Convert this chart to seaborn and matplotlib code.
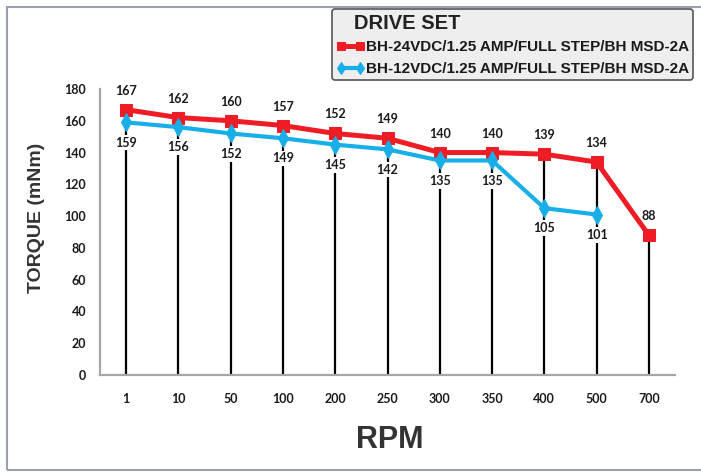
import matplotlib
matplotlib.use("Agg")
import matplotlib.pyplot as plt
import seaborn as sns
import pandas as pd
import numpy as np
from matplotlib.patches import Rectangle

rpm = ["1", "10", "50", "100", "200", "250", "300", "350", "400", "500", "700"]
torque_24v = [167, 162, 160, 157, 152, 149, 140, 140, 139, 134, 88]
torque_12v = [159, 156, 152, 149, 145, 142, 135, 135, 105, 101]
label_24v = "BH-24VDC/1.25 AMP/FULL STEP/BH MSD-2A"
label_12v = "BH-12VDC/1.25 AMP/FULL STEP/BH MSD-2A"
yticks = [0, 20, 40, 60, 80, 100, 120, 140, 160, 180]

RED = "#ee1c25"
BLUE = "#18aee8"

sns.set_style("white")
plt.rcParams["font.family"] = ["Lato", "DejaVu Sans"]

W, H = 701, 472
fig = plt.figure(figsize=(W / 100, H / 100), dpi=100)
fig.patch.set_facecolor("white")

# outer frame
fig.patches.append(Rectangle((7 / W, 2 / H), 1.0, 1 - 9 / H, transform=fig.transFigure,
                             fill=False, edgecolor="#9aa0ac", linewidth=1.5, zorder=0))

ax = fig.add_axes([100 / W, 1 - 375 / H, 575 / W, (375 - 89) / H])
ax.set_facecolor("white")

df24 = pd.DataFrame({"rpm": rpm, "torque": torque_24v})
df12 = pd.DataFrame({"rpm": rpm[:len(torque_12v)], "torque": torque_12v})

# drop lines from axis to the highest value at each speed
tops = [max(a, b) for a, b in zip(torque_24v, torque_12v + [0] * (len(rpm) - len(torque_12v)))]
sns.lineplot(data=df24, x="rpm", y="torque", sort=False, ax=ax, color=RED, linewidth=3.6,
             marker="s", markersize=9, markeredgecolor=RED, label=label_24v, zorder=4)
sns.lineplot(data=df12, x="rpm", y="torque", sort=False, ax=ax, color=BLUE, linewidth=3.0,
             marker="d", markersize=9, markeredgecolor=BLUE, label=label_12v, zorder=4)
ax.vlines(range(len(rpm)), 0, tops, colors="black", linewidth=1.6, zorder=2)

box = dict(boxstyle="square,pad=0.15", facecolor="white", edgecolor="none")
for i, v in enumerate(torque_24v):
    ax.annotate(str(v), (i, v), xytext=(0, 13.7), textcoords="offset points",
                ha="center", va="center", fontsize=9, fontweight="bold", color="#1a1a1a",
                bbox=box, zorder=3)
for i, v in enumerate(torque_12v):
    ax.annotate(str(v), (i, v), xytext=(0, -14.5), textcoords="offset points",
                ha="center", va="center", fontsize=9, fontweight="bold", color="#1a1a1a",
                bbox=box, zorder=3)

ax.set_xlim(-0.5, len(rpm) - 0.5)
ax.set_ylim(0, 180)
ax.set_yticks(yticks)
ax.set_xlabel("")
ax.set_ylabel("")
for s in ["top", "right"]:
    ax.spines[s].set_visible(False)
for s in ["left", "bottom"]:
    ax.spines[s].set_color("#a6a6a6")
    ax.spines[s].set_linewidth(1.6)
ax.tick_params(axis="y", direction="out", length=4, width=1.5, color="#a6a6a6", pad=6,
               labelsize=9, labelcolor="#1a1a1a")
ax.tick_params(axis="x", length=0, pad=13, labelsize=9, labelcolor="#1a1a1a")
for t in ax.get_xticklabels() + ax.get_yticklabels():
    t.set_fontweight("bold")

fig.text(37 / W, 1 - 218 / H, "TORQUE (mNm)", rotation=90, ha="center", va="center",
         fontsize=14, fontweight="bold", color="#333333", family=["Liberation Sans", "DejaVu Sans"])
fig.text(390 / W, 1 - 440 / H, "RPM", ha="center", va="center",
         fontsize=22, fontweight="bold", color="#333333", family=["Liberation Sans", "DejaVu Sans"])

handles, labels = ax.get_legend_handles_labels()
ax.legend_.remove()
leg = fig.legend(handles, labels, loc="upper left", bbox_to_anchor=(332 / W, 1 - 9 / H),
                 borderaxespad=0, title="   DRIVE SET", alignment="left", numpoints=2,
                 markerscale=0.7, handlelength=1.8, handletextpad=0.1, labelspacing=0.5,
                 borderpad=0.3,
                 prop={"family": ["Liberation Sans", "DejaVu Sans"], "weight": "bold", "size": 11},
                 title_fontproperties={"family": ["Liberation Sans", "DejaVu Sans"], "weight": "bold", "size": 14.5},
                 frameon=True, fancybox=True, facecolor="#eeeeee", edgecolor="#555555", framealpha=1)
leg.get_frame().set_linewidth(1.2)
leg.get_title().set_color("#222222")
for t in leg.get_texts():
    t.set_color("#1a1a1a")

fig.savefig("out.png", dpi=100, facecolor="white")
